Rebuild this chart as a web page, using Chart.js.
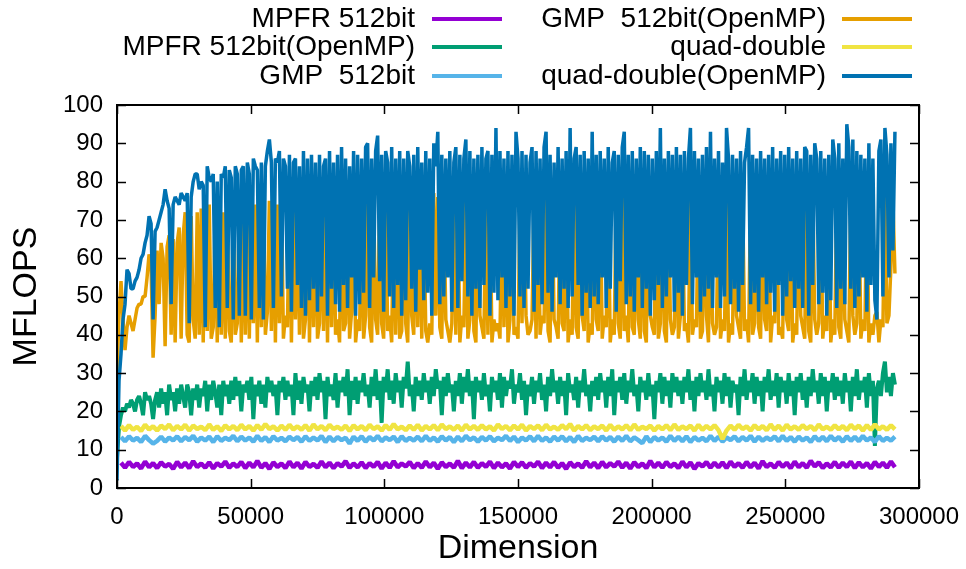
<!DOCTYPE html>
<html>
<head>
<meta charset="utf-8">
<script src="https://cdn.jsdelivr.net/npm/chart.js@4/dist/chart.umd.min.js"></script>
<style>
  html, body { margin: 0; padding: 0; background: #fff; }
  #wrap { position: relative; width: 966px; height: 569px; }
</style>
</head>
<body>
<div id="wrap"><canvas id="c"></canvas></div>
<script>
// Matrix dimensions measured by the single-thread runs
const dimsSerial = [
  0,1500,3000,4500,6000,7500,9000,10500,12000,13500,15000,16500,18000,19500,21000,
  22500,24000,25500,27000,28500,30000,31500,33000,34500,36000,37500,39000,40500,42000,43500,
  45000,46500,48000,49500,51000,52500,54000,55500,57000,58500,60000,61500,63000,64500,66000,
  67500,69000,70500,72000,73500,75000,76500,78000,79500,81000,82500,84000,85500,87000,88500,
  90000,91500,93000,94500,96000,97500,99000,100500,102000,103500,105000,106500,108000,109500,111000,
  112500,114000,115500,117000,118500,120000,121500,123000,124500,126000,127500,129000,130500,132000,133500,
  135000,136500,138000,139500,141000,142500,144000,145500,147000,148500,150000,151500,153000,154500,156000,
  157500,159000,160500,162000,163500,165000,166500,168000,169500,171000,172500,174000,175500,177000,178500,
  180000,181500,183000,184500,186000,187500,189000,190500,192000,193500,195000,196500,198000,199500,201000,
  202500,204000,205500,207000,208500,210000,211500,213000,214500,216000,217500,219000,220500,222000,223500,
  225000,226500,228000,229500,231000,232500,234000,235500,237000,238500,240000,241500,243000,244500,246000,
  247500,249000,250500,252000,253500,255000,256500,258000,259500,261000,262500,264000,265500,267000,268500,
  270000,271500,273000,274500,276000,277500,279000,280500,282000,283500,285000,286500,288000,289500,291000
];

// Matrix dimensions measured by the OpenMP runs
const dimsOmp = [
  0,750,1500,2250,3000,3750,4500,5250,6000,6750,7500,8250,9000,9750,10500,11250,12000,12750,13500,14250,
  15000,15750,16500,17250,18000,18750,19500,20250,21000,21750,22500,23250,24000,24750,25500,26250,27000,27750,28500,29250,
  30000,30750,31500,32250,33000,33750,34500,35250,36000,36750,37500,38250,39000,39750,40500,41250,42000,42750,43500,44250,
  45000,45750,46500,47250,48000,48750,49500,50250,51000,51750,52500,53250,54000,54750,55500,56250,57000,57750,58500,59250,
  60000,60750,61500,62250,63000,63750,64500,65250,66000,66750,67500,68250,69000,69750,70500,71250,72000,72750,73500,74250,
  75000,75750,76500,77250,78000,78750,79500,80250,81000,81750,82500,83250,84000,84750,85500,86250,87000,87750,88500,89250,
  90000,90750,91500,92250,93000,93750,94500,95250,96000,96750,97500,98250,99000,99750,100500,101250,102000,102750,103500,104250,
  105000,105750,106500,107250,108000,108750,109500,110250,111000,111750,112500,113250,114000,114750,115500,116250,117000,117750,118500,119250,
  120000,120750,121500,122250,123000,123750,124500,125250,126000,126750,127500,128250,129000,129750,130500,131250,132000,132750,133500,134250,
  135000,135750,136500,137250,138000,138750,139500,140250,141000,141750,142500,143250,144000,144750,145500,146250,147000,147750,148500,149250,
  150000,150750,151500,152250,153000,153750,154500,155250,156000,156750,157500,158250,159000,159750,160500,161250,162000,162750,163500,164250,
  165000,165750,166500,167250,168000,168750,169500,170250,171000,171750,172500,173250,174000,174750,175500,176250,177000,177750,178500,179250,
  180000,180750,181500,182250,183000,183750,184500,185250,186000,186750,187500,188250,189000,189750,190500,191250,192000,192750,193500,194250,
  195000,195750,196500,197250,198000,198750,199500,200250,201000,201750,202500,203250,204000,204750,205500,206250,207000,207750,208500,209250,
  210000,210750,211500,212250,213000,213750,214500,215250,216000,216750,217500,218250,219000,219750,220500,221250,222000,222750,223500,224250,
  225000,225750,226500,227250,228000,228750,229500,230250,231000,231750,232500,233250,234000,234750,235500,236250,237000,237750,238500,239250,
  240000,240750,241500,242250,243000,243750,244500,245250,246000,246750,247500,248250,249000,249750,250500,251250,252000,252750,253500,254250,
  255000,255750,256500,257250,258000,258750,259500,260250,261000,261750,262500,263250,264000,264750,265500,266250,267000,267750,268500,269250,
  270000,270750,271500,272250,273000,273750,274500,275250,276000,276750,277500,278250,279000,279750,280500,281250,282000,282750,283500,284250,
  285000,285750,286500,287250,288000,288750,289500,290250,291000
];

// MFLOPS, MPFR 512bit
const mpfr = [
  null,6.6,5.3,6.8,5.5,6.4,5.1,6.9,5.4,6.5,5.2,6.7,5.6,6.3,5.0,
  6.8,5.4,6.6,5.2,7.0,5.5,6.4,5.3,6.7,5.1,6.5,5.6,6.9,5.3,6.4,
  5.5,6.8,5.2,6.6,5.4,7.1,5.3,6.5,5.0,6.7,5.5,6.4,5.2,6.9,5.4,
  6.6,5.1,6.8,5.5,6.3,5.3,6.9,5.4,6.6,5.2,6.5,5.6,7.0,5.3,6.4,
  5.4,6.7,5.2,6.5,5.5,6.8,5.1,6.6,5.3,7.0,5.4,6.4,5.6,6.8,5.2,
  6.5,5.3,6.9,5.4,6.6,5.0,6.7,5.5,6.4,5.3,7.1,5.2,6.6,5.4,6.8,
  5.3,6.5,5.5,6.9,5.2,6.6,5.4,6.4,5.1,6.8,5.5,6.7,5.3,6.5,5.6,
  6.9,5.2,6.6,5.4,6.8,5.3,6.5,5.0,6.7,5.5,6.4,5.3,7.0,5.4,6.6,
  5.2,6.8,5.4,6.5,5.6,6.9,5.3,6.6,5.1,6.7,5.5,6.4,5.2,7.1,5.4,
  6.6,5.3,6.8,5.5,6.4,5.2,6.9,5.4,6.7,5.0,6.5,5.6,6.8,5.3,6.6,
  5.4,6.7,5.2,6.9,5.5,6.5,5.3,6.8,5.4,6.6,5.1,7.0,5.5,6.4,5.3,
  6.8,5.5,6.6,5.2,6.9,5.4,6.5,5.3,7.1,5.6,6.7,5.2,6.4,5.4,6.8,
  5.3,6.6,5.5,6.9,5.2,6.7,5.4,6.5,5.1,6.8,5.5,6.6,5.3,6.9,5.4
];

// MFLOPS, MPFR 512bit with OpenMP
const mpfrOmp = [
  8,16,19,21,20,22,21,23,22,20,23,24,22,19,25,23,24,22,18,23,
  25,21,26,22,25,19,27,23,25,20,26,22,27,24,21,27,25,19,26,23,
  27,21,26,24,28,20,27,23,28,25,21,27,19,28,24,27,22,28,23,29,
  24,28,20,27,25,28,23,29,18,27,24,28,22,27,21,29,25,28,24,27,
  19,28,25,29,23,28,24,27,19,30,23,28,22,29,25,27,20,28,24,29,
  23,30,25,28,18,29,24,27,23,30,21,28,25,29,24,31,19,28,23,29,
  22,28,25,30,24,27,21,29,24,31,23,28,17,29,25,31,23,28,22,30,
  25,28,21,29,26,33,24,27,20,29,24,28,23,30,25,28,22,29,24,31,
  26,28,19,29,24,30,25,27,20,28,24,30,22,29,25,31,24,28,18,29,
  25,28,23,30,24,27,20,29,25,28,23,30,21,29,24,28,26,31,22,27,
  25,30,23,28,19,27,24,29,22,28,25,30,23,27,20,29,24,31,25,28,
  22,29,24,28,19,30,25,27,23,29,21,28,25,31,24,27,20,28,24,29,
  23,30,25,28,21,29,24,31,19,28,25,29,23,30,22,28,25,31,24,27,
  20,29,25,28,23,30,24,27,18,28,25,30,22,29,24,28,21,30,25,29,
  24,28,22,29,25,31,23,28,20,29,24,30,25,28,23,31,24,27,20,29,
  25,28,22,30,24,29,21,28,25,27,19,29,24,31,23,28,25,30,22,29,
  24,28,20,29,25,31,23,28,24,30,21,29,25,28,22,30,24,28,19,29,
  25,30,23,28,21,29,24,31,25,28,22,30,24,29,20,28,25,30,23,29,
  24,28,22,30,25,28,20,29,24,31,23,28,25,29,21,30,24,28,11,26,
  28,24,30,33,25,29,24,30,27
];

// MFLOPS, GMP 512bit
const gmp = [
  null,13.3,12.2,13.5,12.4,13.1,12.0,13.6,12.5,11.6,12.3,13.4,12.1,13.2,12.4,
  13.5,12.2,13.3,12.5,13.6,12.1,13.2,12.4,13.4,12.0,13.5,12.3,13.1,12.5,13.6,
  12.2,13.4,12.4,13.2,12.1,13.6,12.3,13.3,12.0,13.5,12.4,13.1,12.2,13.4,12.5,
  13.3,12.1,13.5,12.3,13.2,12.4,13.6,12.0,13.4,12.2,13.3,12.5,13.1,11.6,13.4,
  12.3,13.5,12.1,13.3,12.4,13.6,12.2,13.2,12.5,13.4,12.0,13.5,12.3,13.1,12.4,
  13.4,12.2,13.6,12.3,13.2,12.1,13.5,12.4,13.3,12.0,13.4,12.2,13.6,12.5,13.2,
  12.1,13.3,12.4,13.5,12.2,13.1,12.5,13.6,12.3,13.4,12.0,13.2,12.4,13.5,12.2,
  13.6,12.3,13.2,12.1,13.4,12.4,13.5,12.2,13.3,12.0,13.6,12.3,13.1,12.5,13.4,
  12.2,13.5,12.4,13.3,12.1,13.4,12.3,13.6,12.2,13.2,12.5,11.7,13.5,12.0,13.3,
  12.4,13.2,12.1,13.6,12.3,13.4,12.2,13.5,12.0,13.3,12.4,13.1,12.2,13.6,12.3,
  13.4,12.1,13.2,12.5,13.5,12.2,13.3,12.4,13.6,12.1,13.4,12.3,13.2,12.5,13.5,
  12.2,13.6,12.3,13.3,12.1,13.4,12.4,13.2,12.0,13.5,12.3,13.4,12.2,13.6,12.4,
  13.3,12.1,13.5,12.3,13.4,12.2,13.6,12.4,13.2,12.0,13.5,12.3,13.1,12.4,13.4
];

// MFLOPS, GMP 512bit with OpenMP
const gmpOmp = [
  30,45,54,44,36,42,45,43,41,44,47,48,48,50,50,55,61,58,34,45,
  62,48,64,60,37,63,66,40,65,38,64,68,39,66,72,40,38,71,44,39,
  72,40,73,38,72,41,74,39,42,74,38,73,40,72,39,74,41,38,74,40,
  43,74,38,74,40,72,39,75,43,74,38,76,42,75,40,46,75,41,76,38,
  74,43,77,39,45,42,76,38,74,44,75,40,76,39,44,77,38,75,42,76,
  39,43,77,41,74,38,77,42,76,40,44,38,77,41,43,75,39,46,78,38,
  44,41,77,39,45,76,42,38,75,44,40,76,43,39,75,41,45,38,76,40,
  77,39,41,77,43,38,75,45,40,76,42,77,39,76,41,38,43,40,77,45,
  76,42,39,76,44,41,38,43,77,40,76,38,45,42,76,39,44,78,41,38,
  77,45,42,39,76,40,77,38,44,41,43,39,76,42,78,38,44,77,40,42,
  39,76,43,78,45,40,41,44,76,39,77,40,45,43,78,41,38,78,44,42,
  39,76,43,41,77,38,44,40,76,42,39,75,45,41,77,38,43,40,76,44,
  41,77,39,45,42,76,38,44,40,78,43,39,76,41,45,38,77,42,40,76,
  44,39,77,41,38,76,45,42,40,78,39,43,76,41,38,77,44,40,42,76,
  39,45,77,41,43,38,76,40,44,42,78,39,41,76,45,38,77,43,40,42,
  76,39,44,41,77,38,43,40,76,45,42,39,78,41,44,38,77,40,43,76,
  42,39,78,44,41,76,38,45,43,77,40,42,39,76,44,41,78,38,43,40,
  77,45,42,39,76,41,38,78,44,40,43,77,39,45,41,76,38,44,40,77,
  42,39,79,44,41,38,79,45,40,43,78,39,44,41,77,38,43,40,45,46,
  38,44,42,76,43,45,58,75,56
];

// MFLOPS, quad-double
const qd = [
  null,16.2,15.0,16.4,15.2,16.0,14.9,16.5,15.3,16.1,15.0,16.3,15.4,16.6,15.1,
  16.2,15.3,16.5,15.0,16.3,15.4,16.0,15.1,16.6,15.2,16.1,14.9,16.4,15.3,16.2,
  15.1,16.5,15.3,16.2,15.0,16.4,15.2,16.7,15.4,16.1,15.0,16.3,15.2,16.5,15.3,
  16.1,15.2,16.4,15.0,16.6,15.3,16.2,15.1,16.5,15.4,16.0,15.2,16.3,14.9,16.4,
  15.3,16.2,15.1,16.5,15.4,16.1,15.0,16.4,15.2,16.7,15.3,16.0,15.1,16.3,15.2,
  16.5,15.0,16.2,15.3,16.4,15.1,16.6,15.4,16.1,15.2,16.3,15.0,16.5,15.3,16.2,
  15.2,16.4,15.3,16.1,15.0,16.6,15.4,16.2,15.1,16.3,15.3,16.5,15.0,16.2,15.4,
  16.3,15.1,16.5,15.3,16.0,15.2,16.4,15.4,16.7,15.0,16.2,15.3,16.4,15.1,16.1,
  15.4,16.3,15.0,16.5,15.2,16.1,15.3,16.4,15.1,16.6,15.2,16.0,15.4,16.3,15.0,
  16.2,15.3,16.4,15.1,16.6,15.2,16.1,15.4,16.3,15.0,16.5,15.2,16.2,15.3,16.4,
  15.1,12.8,15.0,16.3,15.2,16.5,15.4,16.1,15.0,16.4,15.3,16.2,15.1,16.6,15.2,
  16.3,15.0,16.5,15.3,16.1,15.2,16.4,15.4,16.2,15.1,16.6,15.3,16.0,15.2,16.4,
  15.3,16.2,15.1,16.5,15.4,16.3,15.0,16.4,15.2,16.6,15.3,16.1,15.2,16.4,15.3
];

// MFLOPS, quad-double with OpenMP
const qdOmp = [
  2,28,35,44,48,57,56,52,52,54,55,57,60,61,64,66,71,69,44,67,
  68,70,72,74,78,75,73,48,74,76,75,74,77,76,75,77,43,76,80,82,
  82,78,80,79,42,84,81,80,82,47,80,42,82,81,84,47,83,81,44,84,
  82,45,83,84,45,85,82,44,86,84,83,47,85,44,84,88,91,85,47,86,
  85,88,50,86,84,52,87,46,85,86,53,84,47,88,45,86,49,87,52,85,
  46,87,50,84,86,45,88,52,85,48,87,46,89,53,86,47,84,55,88,45,
  87,48,86,51,89,90,47,86,55,88,92,54,87,46,88,85,50,89,47,86,
  53,88,45,86,49,88,84,52,87,46,89,57,85,49,88,51,86,45,90,84,
  93,48,87,50,86,55,88,46,85,89,47,87,54,86,91,50,88,45,86,52,
  87,47,89,53,86,88,45,87,51,94,49,88,55,86,47,88,50,87,45,93,
  86,50,88,47,87,52,85,89,46,88,53,86,48,89,93,51,87,46,85,55,
  89,48,86,52,88,47,94,50,86,89,53,87,45,88,51,86,47,93,50,87,
  48,88,55,86,47,89,52,85,88,46,87,54,89,93,48,87,50,88,46,86,
  55,89,47,88,52,87,45,86,49,88,53,94,47,86,50,88,55,87,46,89,
  51,87,45,88,53,86,94,48,88,55,86,46,87,50,89,52,93,47,86,55,
  88,47,85,50,94,86,48,87,52,86,46,88,53,85,89,94,48,87,51,86,
  46,88,55,86,48,87,51,89,46,86,53,88,45,87,50,89,54,86,47,88,
  52,86,47,89,88,45,87,53,90,86,48,88,51,86,45,87,49,91,86,47,
  90,52,86,48,95,89,52,91,47,88,50,87,55,86,46,90,53,86,49,44,
  88,91,50,94,87,55,90,62,93
];

const xTicks = [0, 50000, 100000, 150000, 200000, 250000, 300000];
const yTicks = [0, 10, 20, 30, 40, 50, 60, 70, 80, 90, 100];

const FONT = '"Liberation Sans", Arial, Helvetica, sans-serif';

function series(xs, values) {
  return xs.map((x, i) => ({ x: x, y: values[i] }));
}

function line(label, xs, values, color, order, width) {
  return {
    label: label,
    data: series(xs, values),
    borderColor: color,
    backgroundColor: color,
    borderWidth: width,
    borderJoinStyle: 'bevel',
    borderCapStyle: 'butt',
    pointRadius: 0,
    tension: 0,
    fill: false,
    order: order
  };
}

// Key in two columns above the plot, text right-aligned before the sample line
const keyPlugin = {
  id: 'gnuKey',
  afterDraw(chart) {
    const ctx = chart.ctx;
    const cols = [
      { textRight: 415, x1: 432, x2: 502 },
      { textRight: 826, x1: 842, x2: 912 }
    ];
    const rows = [19, 47, 76];
    const ds = chart.data.datasets;
    ctx.save();
    ctx.font = '28px ' + FONT;
    ctx.textAlign = 'right';
    ctx.textBaseline = 'middle';
    ds.forEach((d, i) => {
      const c = cols[Math.floor(i / 3)];
      const y = rows[i % 3];
      ctx.fillStyle = '#000';
      ctx.fillText(d.label, c.textRight, y);
      ctx.strokeStyle = d.borderColor;
      ctx.lineWidth = 4;
      ctx.beginPath();
      ctx.moveTo(c.x1, y);
      ctx.lineTo(c.x2, y);
      ctx.stroke();
    });
    ctx.restore();
  }
};

// Frame round the plot with inward tick marks on all four sides
const framePlugin = {
  id: 'gnuFrame',
  afterDatasetsDraw(chart) {
    const { ctx, chartArea: a, scales } = chart;
    ctx.save();
    ctx.strokeStyle = '#000';
    ctx.lineWidth = 1.5;
    ctx.beginPath();
    yTicks.forEach(v => {
      const y = Math.round(scales.y.getPixelForValue(v)) + 0.5;
      ctx.moveTo(a.left, y); ctx.lineTo(a.left + 9, y);
      ctx.moveTo(a.right, y); ctx.lineTo(a.right - 9, y);
    });
    xTicks.forEach(v => {
      const x = Math.round(scales.x.getPixelForValue(v)) + 0.5;
      ctx.moveTo(x, a.bottom); ctx.lineTo(x, a.bottom - 9);
      ctx.moveTo(x, a.top); ctx.lineTo(x, a.top + 9);
    });
    ctx.stroke();
    ctx.lineWidth = 2;
    ctx.strokeRect(a.left, a.top, a.right - a.left, a.bottom - a.top);
    ctx.restore();
  }
};

new Chart(document.getElementById('c'), {
  type: 'line',
  data: {
    datasets: [
      line('MPFR 512bit', dimsSerial, mpfr, '#9400d3', 6, 4.5),
      line('MPFR 512bit(OpenMP)', dimsOmp, mpfrOmp, '#009e73', 5, 4),
      line('GMP  512bit', dimsSerial, gmp, '#56b4e9', 4, 4.5),
      line('GMP  512bit(OpenMP)', dimsOmp, gmpOmp, '#e69f00', 3, 3.5),
      line('quad-double', dimsSerial, qd, '#f0e442', 2, 4.5),
      line('quad-double(OpenMP)', dimsOmp, qdOmp, '#0072b2', 1, 3.5)
    ]
  },
  options: {
    responsive: true,
    maintainAspectRatio: false,
    animation: false,
    events: [],
    layout: { padding: { top: 105, right: 47, left: 0, bottom: 0 } },
    plugins: {
      legend: { display: false },
      tooltip: { enabled: false }
    },
    scales: {
      x: {
        type: 'linear',
        min: 0,
        max: 300000,
        afterBuildTicks(scale) { scale.ticks = xTicks.map(v => ({ value: v })); },
        afterFit(scale) {
          scale.height = 81;
          scale.paddingLeft = 0;
          scale.paddingRight = 0;
        },
        grid: { display: false, drawTicks: false },
        border: { display: false },
        ticks: {
          color: '#000',
          font: { family: FONT, size: 24 },
          padding: 15,
          maxRotation: 0,
          autoSkip: false,
          callback: v => String(v)
        },
        title: {
          display: true,
          text: 'Dimension',
          color: '#000',
          font: { family: FONT, size: 34 },
          padding: { top: 0, bottom: 0 }
        }
      },
      y: {
        type: 'linear',
        min: 0,
        max: 100,
        afterBuildTicks(scale) { scale.ticks = yTicks.map(v => ({ value: v })); },
        afterFit(scale) {
          scale.width = 117;
          scale.paddingTop = 0;
          scale.paddingBottom = 0;
        },
        grid: { display: false, drawTicks: false },
        border: { display: false },
        ticks: {
          color: '#000',
          font: { family: FONT, size: 24 },
          padding: 14,
          autoSkip: false,
          callback: v => String(v)
        },
        title: {
          display: true,
          text: 'MFLOPS',
          color: '#000',
          font: { family: FONT, size: 34 },
          padding: { top: 6, bottom: 0 }
        }
      }
    }
  },
  plugins: [keyPlugin, framePlugin]
});
</script>
</body>
</html>
